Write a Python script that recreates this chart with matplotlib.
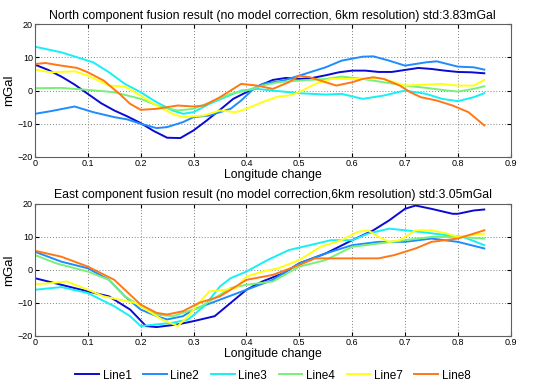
import numpy as np
import matplotlib.pyplot as plt

plt.rcParams['font.family'] = ['Liberation Sans', 'DejaVu Sans']

names = ['Line1', 'Line2', 'Line3', 'Line4', 'Line7', 'Line8']
colors = ['#0a0ad2', '#1e8cff', '#14f0f5', '#78f078', '#ffff14', '#ff7814']

# North component (top panel)
n_x1 = [0, 0.025, 0.05, 0.075, 0.1, 0.125, 0.15, 0.175, 0.2, 0.225, 0.25, 0.275, 0.3, 0.325, 0.35, 0.375, 0.4, 0.425,
        0.45, 0.475, 0.5, 0.525, 0.55, 0.575, 0.6, 0.625, 0.65, 0.675, 0.7, 0.725, 0.75, 0.775, 0.8, 0.825, 0.85]
n_y1 = [7.8, 6.2, 4.2, 1.8, -1.0, -3.8, -6.0, -7.8, -9.8, -12.2, -14.2, -14.3, -12.0, -9.0, -5.8, -2.5, -0.5, 1.5,
        3.2, 3.8, 3.5, 3.8, 4.6, 5.5, 6.0, 6.0, 5.6, 5.6, 6.2, 6.8, 6.5, 6.0, 5.6, 5.5, 5.2]
n_x2 = [0, 0.03, 0.075, 0.11, 0.15, 0.175, 0.2, 0.23, 0.25, 0.28, 0.3, 0.33, 0.37, 0.39, 0.41, 0.43, 0.47, 0.5,
        0.55, 0.58, 0.62, 0.64, 0.67, 0.7, 0.74, 0.76, 0.8, 0.83, 0.85]
n_y2 = [-7, -6.2, -4.8, -6.5, -8, -8.7, -10, -11.3, -11, -9.5, -8, -7.5, -5.5, -3, 0, 2, 3, 4.5,
        7, 9, 10.2, 10.3, 9, 7.5, 8.5, 8.8, 7.2, 7, 6.3]
n_x3 = [0, 0.05, 0.09, 0.11, 0.14, 0.17, 0.2, 0.23, 0.26, 0.28, 0.3, 0.33, 0.36, 0.39, 0.42, 0.45, 0.5, 0.55,
        0.58, 0.62, 0.66, 0.7, 0.74, 0.77, 0.8, 0.83, 0.85]
n_y3 = [13.2, 11.5, 9.5, 8.5, 5.5, 2, -0.5, -3.5, -6, -7, -6.5, -4, -2, 0, 0.5, 0, -0.8, -1.2,
        -1, -2.5, -1.5, 0, -1, -2.5, -3.2, -2, -0.8]
n_x4 = [0, 0.05, 0.1, 0.15, 0.2, 0.24, 0.27, 0.3, 0.34, 0.37, 0.4, 0.43, 0.46, 0.5, 0.55, 0.58, 0.62, 0.66,
        0.7, 0.74, 0.78, 0.8, 0.83, 0.85]
n_y4 = [0.7, 0.8, 0.2, -0.5, -2.5, -5, -6, -5.5, -3, -1, 0, 1.5, 2.5, 3, 3.5, 4.2, 3.5, 2.5,
        1.5, 0.8, 0, -0.3, 0.5, 1.3]
n_x7 = [0, 0.03, 0.075, 0.1, 0.14, 0.17, 0.2, 0.23, 0.26, 0.28, 0.32, 0.35, 0.38, 0.4, 0.43, 0.46, 0.48, 0.5,
        0.53, 0.56, 0.6, 0.63, 0.65, 0.68, 0.7, 0.74, 0.77, 0.8, 0.83, 0.85]
n_y7 = [6.3, 5.5, 5.8, 4.5, 1.5, 1.2, -1.5, -4.5, -7, -8, -7.5, -6, -6.5, -5.5, -3.5, -1.8, -1.5, -0.5,
        2, 3.5, 3.5, 3.5, 3.8, 2.5, 1.5, 1.8, 2, 1.5, 1.5, 3.2]
n_x8 = [0, 0.02, 0.05, 0.08, 0.1, 0.13, 0.16, 0.18, 0.2, 0.23, 0.27, 0.3, 0.32, 0.35, 0.38, 0.39, 0.42, 0.45,
        0.48, 0.5, 0.52, 0.55, 0.57, 0.6, 0.62, 0.64, 0.66, 0.69, 0.71, 0.73, 0.76, 0.79, 0.82, 0.85]
n_y8 = [8, 8.3, 7.5, 6.8, 5.5, 3, -1, -4, -5.8, -5.5, -4.5, -4.8, -4.5, -2, 1, 2, 1.5, 0.5,
        2.5, 4.5, 4, 2.5, 1.5, 2.5, 3.5, 4, 3.5, 1.5, -0.5, -2, -3, -4.5, -6.5, -10.5]

# East component (bottom panel)
e_x1 = [0, 0.05, 0.1, 0.14, 0.18, 0.21, 0.23, 0.27, 0.3, 0.34, 0.37, 0.4, 0.43, 0.47, 0.5, 0.55, 0.6, 0.64,
        0.67, 0.7, 0.72, 0.75, 0.79, 0.8, 0.83, 0.85]
e_y1 = [-2.5, -4.5, -6.5, -8, -12, -17, -17.3, -16.5, -15.5, -14, -10, -6, -3.5, -1, 2, 5, 9, 12,
        15, 18.5, 19.5, 18.5, 17, 17, 18, 18.3]
e_x2 = [0, 0.05, 0.1, 0.14, 0.17, 0.2, 0.23, 0.25, 0.28, 0.3, 0.35, 0.4, 0.45, 0.5, 0.55, 0.6, 0.65, 0.7,
        0.75, 0.8, 0.85]
e_y2 = [5.5, 2.5, 0.5, -3, -8, -12, -14, -15, -14, -12, -9, -6, -3, 2, 5, 7.5, 8.5, 8.5,
        9.5, 8.5, 6.5]
e_x3 = [0, 0.05, 0.1, 0.15, 0.18, 0.2, 0.23, 0.26, 0.29, 0.32, 0.35, 0.37, 0.4, 0.44, 0.48, 0.52, 0.56, 0.6,
        0.63, 0.67, 0.7, 0.73, 0.78, 0.81, 0.85]
e_y3 = [-6, -5.2, -7, -11, -14, -17, -16.5, -16, -15, -11, -5, -2.5, -0.5, 3, 6, 7.5, 9, 9,
        11, 12.5, 12, 11.5, 10.5, 10, 7.5]
e_x4 = [0, 0.04, 0.1, 0.14, 0.17, 0.2, 0.23, 0.26, 0.28, 0.31, 0.34, 0.37, 0.4, 0.45, 0.5, 0.55, 0.6, 0.65,
        0.7, 0.75, 0.8, 0.85]
e_y4 = [4.5, 2, -0.5, -3, -8, -11, -13.5, -14, -13, -11.5, -8.5, -5.5, -4.5, -3.5, 1, 3, 7, 8,
        9, 10, 10, 9.5]
e_x7 = [0, 0.03, 0.06, 0.1, 0.13, 0.16, 0.19, 0.21, 0.24, 0.27, 0.29, 0.31, 0.33, 0.36, 0.38, 0.4, 0.43, 0.46,
        0.5, 0.54, 0.58, 0.61, 0.63, 0.65, 0.67, 0.69, 0.72, 0.75, 0.78, 0.8, 0.85]
e_y7 = [-4.3, -4, -3.5, -6, -8, -9, -10, -12, -15, -17, -14, -10, -6.5, -6, -5.5, -2, -0.5, 0.5,
        3, 7, 9, 11.5, 12, 10, 8.5, 9, 12, 12, 11, 10, 11]
e_x8 = [0, 0.05, 0.1, 0.15, 0.18, 0.2, 0.23, 0.25, 0.28, 0.31, 0.35, 0.4, 0.45, 0.5, 0.53, 0.6, 0.65, 0.68,
        0.72, 0.75, 0.8, 0.85]
e_y8 = [5.8, 4, 1, -3, -7.5, -10.5, -13, -13.5, -12.5, -10, -8, -3, -1.5, 1.5, 3.5, 3.5, 3.5, 4.5,
        6.5, 8.5, 9.5, 12]

north = [(n_x1, n_y1), (n_x2, n_y2), (n_x3, n_y3), (n_x4, n_y4), (n_x7, n_y7), (n_x8, n_y8)]
east = [(e_x1, e_y1), (e_x2, e_y2), (e_x3, e_y3), (e_x4, e_y4), (e_x7, e_y7), (e_x8, e_y8)]

titles = ['North component fusion result (no model correction, 6km resolution) std:3.83mGal',
          'East component fusion result (no model correction,6km resolution) std:3.05mGal']

fig = plt.figure(figsize=(5.5, 3.92), dpi=100)
ax1 = fig.add_axes([0.0636, 0.5995, 0.865, 0.339])
ax2 = fig.add_axes([0.0636, 0.1429, 0.865, 0.337])

for ax, data, title in zip([ax1, ax2], [north, east], titles):
    for (x, y), c, n in zip(data, colors, names):
        ax.plot(x, y, color=c, lw=1.4, label=n)
    ax.set_xlim(0, 0.9)
    ax.set_ylim(-20, 20)
    ax.set_xticks(np.arange(0, 0.91, 0.1))
    ax.set_xticklabels(['0', '0.1', '0.2', '0.3', '0.4', '0.5', '0.6', '0.7', '0.8', '0.9'])
    ax.set_yticks([-20, -10, 0, 10, 20])
    ax.grid(True, color='#808080', linestyle=(0, (1, 2)), lw=0.7)
    ax.tick_params(direction='in', top=True, right=True, labelsize=6.5, length=3, pad=1.5)
    for s in ax.spines.values():
        s.set_color('#606060')
        s.set_linewidth(0.8)
    ax.set_title(title, fontsize=8.8, pad=4)
    ax.set_xlabel('Longitude change', fontsize=8.8, labelpad=1)
    ax.set_ylabel('mGal', fontsize=9.5, labelpad=2)

ax2.legend(loc='center', bbox_to_anchor=(0.5, -0.30), ncol=6, frameon=False,
           fontsize=8.5, handlelength=2.0, columnspacing=1.0, handletextpad=0.3)

fig.savefig('out.png', dpi=100)
